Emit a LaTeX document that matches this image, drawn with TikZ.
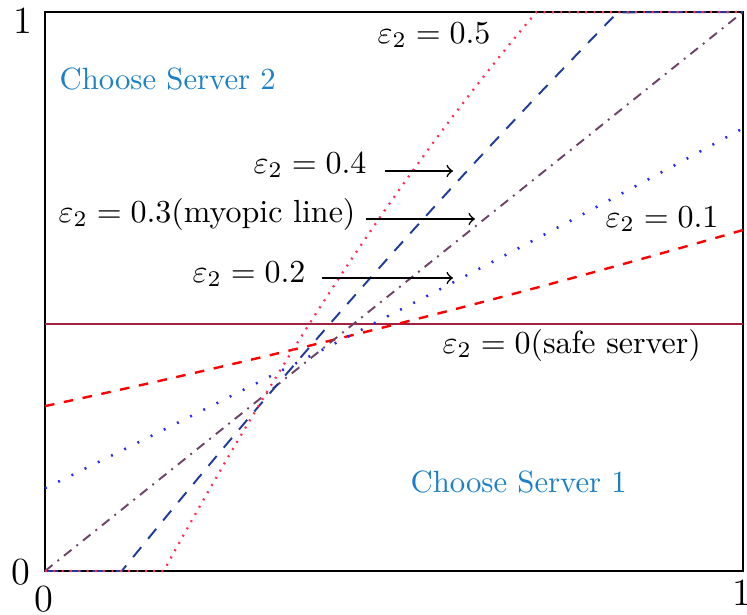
\documentclass[tikz,border=0pt]{standalone}
\usepackage{amsmath}
\definecolor{pinkdot}{HTML}{FF2A55}
\definecolor{navydash}{HTML}{1F3A9C}
\definecolor{myopic}{HTML}{6B4468}
\definecolor{bluedot}{HTML}{2626FF}
\definecolor{safeline}{HTML}{A3203F}
\definecolor{region}{HTML}{1B80C6}
\tikzset{
  lbl/.style={inner sep=0pt, anchor=base west},
  regionlbl/.style={lbl, text=region, font=\fontsize{9.6}{11}\selectfont},
  tick/.style={inner sep=0pt, anchor=base, font=\large},
  pointer/.style={->, line width=0.5pt},
  curve/.style={line width=0.6pt},
}
\begin{document}
\begin{tikzpicture}[x=0.3125pt, y=-0.3125pt]
\useasboundingbox (0,0) rectangle (747,615);

% frame
\draw[line width=0.8pt] (45,12) rectangle (743,571);

% threshold curves in unit coordinates
\begin{scope}[shift={(45,571)}, x=218.125pt, y=174.6875pt]
  % eps_2 = 0 (safe server)
  \draw[safeline, line width=0.7pt] (0,0.442) -- (1,0.442);
  % eps_2 = 0.1
  \draw[curve, red, dashed, line width=0.75pt]
    plot[domain=0:1, samples=30] (\x, {0.295+0.267*\x+0.048*\x*\x});
  % eps_2 = 0.2
  \draw[curve, bluedot, loosely dotted, line width=0.8pt]
    plot[domain=0:1, samples=30] (\x, {0.148+0.61*\x+0.034*\x*\x});
  % eps_2 = 0.3 (myopic)
  \draw[curve, myopic, dash dot] (0,0) -- (1,1);
  % eps_2 = 0.4
  \draw[curve, navydash, dash pattern=on 4pt off 3.4pt]
    (0,0) -- (0.11,0)
    -- plot[domain=0.11:0.821, samples=40] (\x, {1.538*(\x-0.11)-0.185*(\x-0.11)^2})
    -- (1,1);
  % eps_2 = 0.5
  \draw[curve, pinkdot, dotted, line width=0.7pt]
    (0,0) -- (0.17,0)
    -- plot[domain=0.17:0.704, samples=40] (\x, {2.276*(\x-0.17)-0.756*(\x-0.17)^2})
    -- (1,1);
\end{scope}

% axis ticks
\node[tick] (y1) at (23,33) {1};
\node[tick] (y0) at (21,584) {0};
\node[tick] (x0) at (44,611) {0};
\node[tick] (x1) at (742,605) {1};

% region names
\node[regionlbl] (srv2) at (59,89) {Choose Server 2};
\node[regionlbl] (srv1) at (410,492) {Choose Server 1};

% curve labels
\node[lbl] (e5) at (377,43) {$\varepsilon_2 = 0.5$};
\node[lbl] (e4) at (253,173) {$\varepsilon_2 = 0.4$};
\node[lbl] (e3) at (58,222) {$\varepsilon_2 = 0.3$(myopic line)};
\node[lbl] (e2) at (192,282) {$\varepsilon_2 = 0.2$};
\node[lbl] (e1) at (605,227) {$\varepsilon_2 = 0.1$};
\node[lbl] (e0) at (442,353) {$\varepsilon_2 = 0$(safe server)};

% pointers
\coordinate (a4s) at (385,171);
\coordinate (a4e) at (453,171);
\coordinate (a3s) at (366,219);
\coordinate (a3e) at (475,219);
\coordinate (a2s) at (322,278);
\coordinate (a2e) at (453,278);
\draw[pointer] (a4s) -- (a4e);
\draw[pointer] (a3s) -- (a3e);
\draw[pointer] (a2s) -- (a2e);
\end{tikzpicture}
\end{document}
